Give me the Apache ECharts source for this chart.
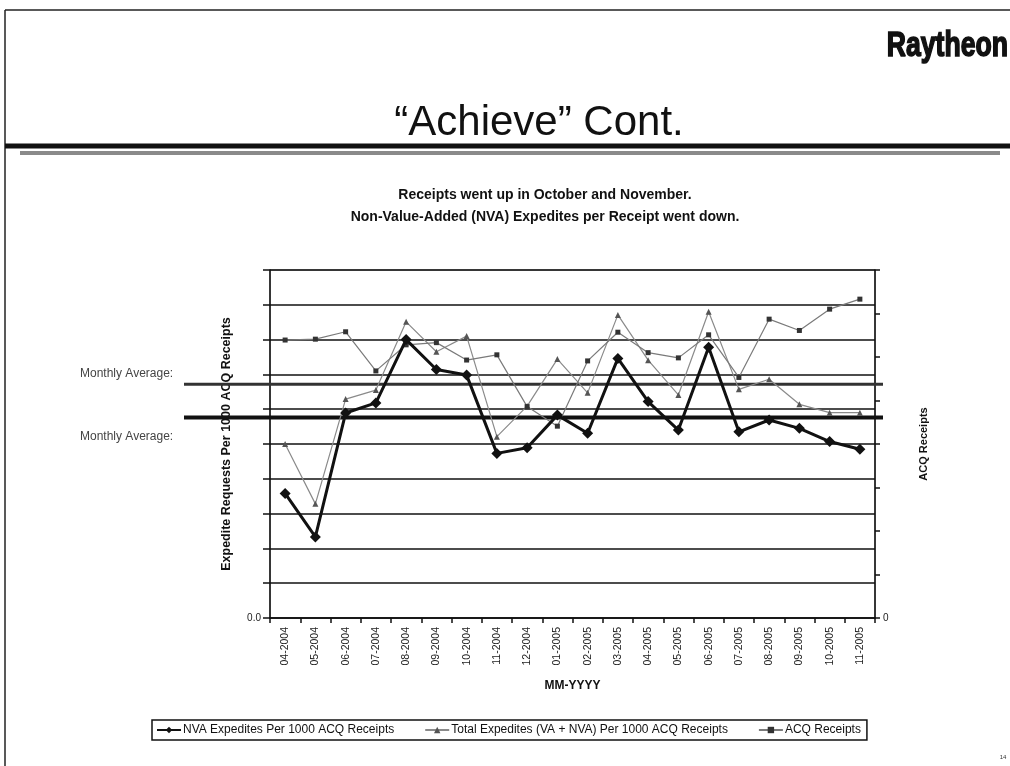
<!DOCTYPE html>
<html>
<head>
<meta charset="utf-8">
<script src="https://cdn.jsdelivr.net/npm/echarts@6/dist/echarts.min.js"></script>
<style>
  html, body { margin: 0; padding: 0; background: #fff; }
  #chart { width: 1010px; height: 766px; }
</style>
</head>
<body>
<div id="chart"></div>
<script>
// Months on the category axis
const months = ['04-2004','05-2004','06-2004','07-2004','08-2004','09-2004','10-2004','11-2004','12-2004',
  '01-2005','02-2005','03-2005','04-2005','05-2005','06-2005','07-2005','08-2005','09-2005','10-2005','11-2005'];

// Non-value-added expedites per 1000 ACQ receipts (left axis)
const nvaExpedites = [3.58, 2.33, 5.89, 6.18, 8.00, 7.14, 6.98, 4.73, 4.89, 5.83,
  5.31, 7.46, 6.22, 5.40, 7.78, 5.35, 5.69, 5.45, 5.07, 4.85];

// Total expedites (VA + NVA) per 1000 ACQ receipts (left axis)
const totalExpedites = [5.00, 3.28, 6.29, 6.55, 8.51, 7.65, 8.10, 5.21, 6.09, 7.44,
  6.47, 8.71, 7.41, 6.41, 8.80, 6.57, 6.86, 6.14, 5.90, 5.90];

// ACQ receipts (right axis)
const acqReceipts = [639, 641, 658, 568, 628, 633, 593, 605, 486, 441,
  591, 657, 610, 598, 651, 553, 687, 661, 710, 733];

// Monthly averages of the two expedite series (left axis units)
const avgTotal = 6.72;
const avgNva = 5.76;

const legendNames = ['NVA Expedites Per 1000 ACQ Receipts',
  'Total Expedites (VA + NVA) Per 1000 ACQ Receipts', 'ACQ Receipts'];

const chart = echarts.init(document.getElementById('chart'), null, { renderer: 'canvas' });

const baseFont = 'Liberation Sans, Arial, sans-serif';

const option = {
  animation: false,
  backgroundColor: '#ffffff',
  textStyle: { fontFamily: baseFont },
  title: [
    {
      text: 'Receipts went up in October and November.\nNon-Value-Added (NVA) Expedites per Receipt went down.',
      left: 540, top: 179, textAlign: 'center',
      textStyle: { fontSize: 14, fontWeight: 'bold', color: '#111', lineHeight: 22, fontFamily: baseFont }
    }
  ],
  grid: {
    left: 270, right: 135, top: 270, bottom: 148,
    show: true, borderColor: '#555', borderWidth: 1
  },
  legend: {
    left: 152, top: 720,
    itemGap: 30, itemWidth: 24, itemHeight: 8,
    padding: [4, 6, 4, 4],
    borderColor: '#111', borderWidth: 1.5,
    textStyle: { fontSize: 12, color: '#111', fontFamily: baseFont, padding: [0, 0, 0, -3] },
    data: legendNames
  },
  xAxis: {
    type: 'category',
    data: months,
    boundaryGap: true,
    name: 'MM-YYYY',
    nameLocation: 'middle',
    nameGap: 62,
    nameTextStyle: { fontSize: 12, fontWeight: 'bold', color: '#111' },
    axisLine: { lineStyle: { color: '#111', width: 1.5 } },
    axisTick: { show: true, interval: 0, length: 5, lineStyle: { color: '#111', width: 1.5 } },
    axisLabel: {
      rotate: 90, interval: 0, margin: 9, fontSize: 10.5, color: '#222', fontFamily: baseFont
    },
    splitLine: { show: false }
  },
  yAxis: [
    {
      type: 'value', min: 0, max: 10, interval: 1,
      name: 'Expedite Requests Per 1000 ACQ Receipts',
      nameLocation: 'middle', nameRotate: 90, nameGap: 37,
      nameTextStyle: { fontSize: 12.5, fontWeight: 'bold', color: '#111' },
      axisLine: { show: true, lineStyle: { color: '#111', width: 1.5 } },
      axisTick: { show: true, length: 7, lineStyle: { color: '#111', width: 1.5 } },
      axisLabel: {
        fontSize: 10, color: '#222', margin: 9,
        formatter: v => (v === 0 ? '0.0' : '')
      },
      splitLine: { show: true, lineStyle: { color: '#111', width: 1.5 } }
    },
    {
      type: 'value', min: 0, max: 800, interval: 100,
      position: 'right',
      name: 'ACQ Receipts',
      nameLocation: 'middle', nameRotate: 90, nameGap: 43,
      nameTextStyle: { fontSize: 11, fontWeight: 'bold', color: '#111' },
      axisLine: { show: true, lineStyle: { color: '#111', width: 1.5 } },
      axisTick: { show: true, length: 5, lineStyle: { color: '#111', width: 1.5 } },
      axisLabel: {
        fontSize: 10, color: '#222', margin: 8,
        formatter: v => (v === 0 ? '0' : '')
      },
      splitLine: { show: false }
    }
  ],
  series: [
    {
      name: legendNames[0],
      type: 'line',
      yAxisIndex: 0,
      data: nvaExpedites,
      symbol: 'diamond', symbolSize: 11,
      itemStyle: { color: '#111' },
      lineStyle: { color: '#111', width: 3 },
      z: 5
    },
    {
      name: legendNames[1],
      type: 'line',
      yAxisIndex: 0,
      data: totalExpedites,
      symbol: 'triangle', symbolSize: 6,
      itemStyle: { color: '#555' },
      lineStyle: { color: '#8a8a8a', width: 1.2 },
      z: 3
    },
    {
      name: legendNames[2],
      type: 'line',
      yAxisIndex: 1,
      data: acqReceipts,
      symbol: 'rect', symbolSize: 5,
      itemStyle: { color: '#333' },
      lineStyle: { color: '#7a7a7a', width: 1.2 },
      z: 3
    }
  ]
};

chart.setOption(option);

// Slide furniture plus the two monthly-average lines, placed on the left-axis scale
const yTot = chart.convertToPixel({ yAxisIndex: 0 }, avgTotal);
const yNva = chart.convertToPixel({ yAxisIndex: 0 }, avgNva);
const avgX0 = 184, avgX1 = 883;

chart.setOption({
  graphic: [
    // slide frame
    { type: 'line', shape: { x1: 5, y1: 10, x2: 1010, y2: 10 }, style: { stroke: '#222', lineWidth: 1.5 } },
    { type: 'line', shape: { x1: 5, y1: 10, x2: 5, y2: 766 }, style: { stroke: '#222', lineWidth: 1.5 } },
    { type: 'line', shape: { x1: 5, y1: 146, x2: 1010, y2: 146 }, style: { stroke: '#111', lineWidth: 5 } },
    { type: 'line', shape: { x1: 20, y1: 153, x2: 1000, y2: 153 }, style: { stroke: '#8a8a8a', lineWidth: 4 } },
    {
      type: 'text', x: 1008, y: 46, scaleX: 0.76, originX: 0, originY: 0,
      style: {
        text: 'Raytheon', fill: '#111', stroke: '#111', lineWidth: 1.6,
        align: 'right', verticalAlign: 'middle',
        font: '900 35px "Liberation Sans", Arial, sans-serif'
      }
    },
    {
      type: 'text', x: 539, y: 123,
      style: {
        text: '\u201CAchieve\u201D Cont.', fill: '#111', align: 'center', verticalAlign: 'middle',
        font: '42px "Liberation Sans", Arial, sans-serif'
      }
    },
    {
      type: 'text', x: 1003, y: 757,
      style: { text: '14', fill: '#333', align: 'center', verticalAlign: 'middle', font: '6px sans-serif' }
    },
    // monthly averages
    { type: 'line', z: 1, shape: { x1: avgX0, y1: yTot, x2: avgX1, y2: yTot }, style: { stroke: '#333', lineWidth: 3 } },
    { type: 'line', z: 1, shape: { x1: avgX0, y1: yNva, x2: avgX1, y2: yNva }, style: { stroke: '#111', lineWidth: 4 } },
    {
      type: 'text', x: 80, y: yTot - 10,
      style: { text: 'Monthly Average:', fill: '#444', align: 'left', verticalAlign: 'middle',
        font: '12px "Liberation Sans", Arial, sans-serif' }
    },
    {
      type: 'text', x: 80, y: yNva + 19,
      style: { text: 'Monthly Average:', fill: '#444', align: 'left', verticalAlign: 'middle',
        font: '12px "Liberation Sans", Arial, sans-serif' }
    }
  ]
});
</script>
</body>
</html>
